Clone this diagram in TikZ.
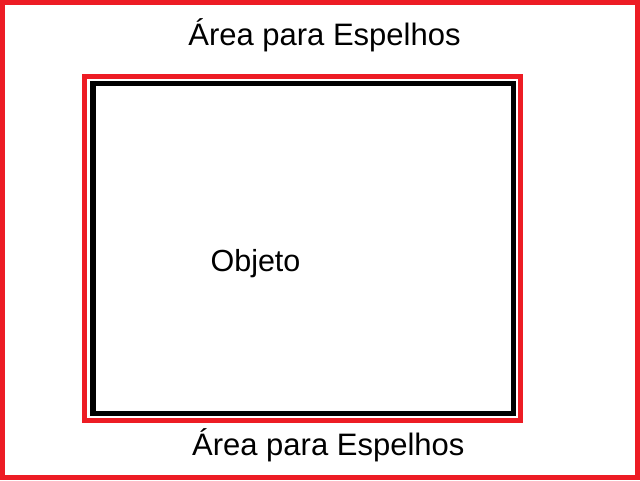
\documentclass[tikz,border=0pt]{standalone}
\usepackage{fontspec}
\setmainfont{Liberation Sans}
\definecolor{paintred}{RGB}{237,28,36}
\begin{document}
\begin{tikzpicture}[x=1pt,y=-1pt,
  redframe/.style={draw=paintred,line width=5pt},
  blackframe/.style={draw=black,line width=5.5pt},
  lbl/.style={font=\fontsize{31pt}{36pt}\selectfont,anchor=base,inner sep=0pt}]
\useasboundingbox[fill=white] (0,0) rectangle (640,480);
\draw[redframe] (2.5,2.5) rectangle (637.5,477.5);
\draw[redframe] (84.5,76.5) rectangle (520.5,420.5);
\draw[blackframe] (93,83.5) rectangle (513.5,413.5);
\node[lbl] (top) at (324.5,45) {Área para Espelhos};
\node[lbl] (bottom) at (328.3,455) {Área para Espelhos};
\node[lbl,font=\fontsize{30.5pt}{35pt}\selectfont] (obj) at (255.5,271.5) {Objeto};
\end{tikzpicture}
\end{document}
